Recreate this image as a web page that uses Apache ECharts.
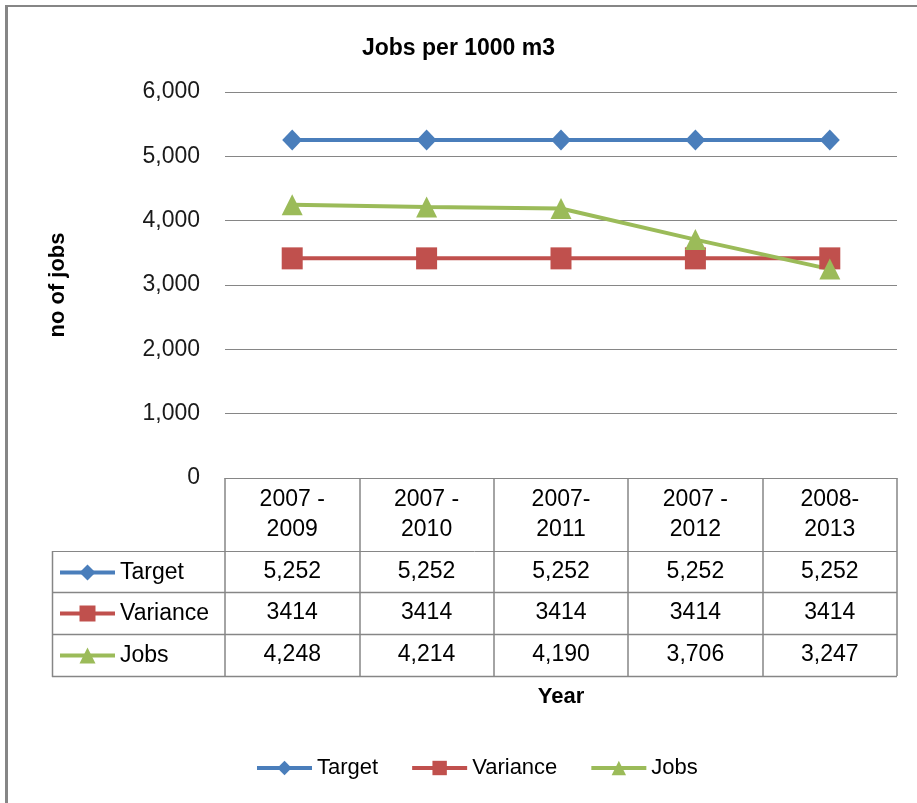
<!DOCTYPE html>
<html>
<head>
<meta charset="utf-8">
<script src="https://cdn.jsdelivr.net/npm/echarts@6/dist/echarts.min.js"></script>
<style>
html,body{margin:0;padding:0;background:#fff}
#chart{width:917px;height:803px}
</style>
</head>
<body>
<div id="chart"></div>
<script>
// 数据
var categories = ['2007 -\n2009', '2007 -\n2010', '2007-\n2011', '2007 -\n2012', '2008-\n2013'];
var target = [5252, 5252, 5252, 5252, 5252];
var variance = [3414, 3414, 3414, 3414, 3414];
var jobs = [4248, 4214, 4190, 3706, 3247];
var seriesNames = ['Target', 'Variance', 'Jobs'];
var colors = ['#4A7EBB', '#C0504D', '#9BBB59'];

var FONT = '"Liberation Sans", Arial, sans-serif';
var GRAY = '#868686';

// 布局
var gridLeft = 225, gridRight = 897, gridTop = 92, gridBottom = 478;
var tableLeft = 52;
var rowLines = [551, 592, 634, 676]; // 表格横线
var rowCenters = [572, 613, 655];

function fmt(v) { return v.toLocaleString('en-US'); }

var myChart = echarts.init(document.getElementById('chart'));

// 数据表每一行都用一个x轴来显示
function rowAxis(values, center, format) {
	return {
		type: 'category', gridIndex: 0, position: 'bottom',
		offset: center - 12 - gridBottom,
		data: categories,
		axisLine: {show: false}, axisTick: {show: false}, splitLine: {show: false},
		axisLabel: {
			interval: 0, margin: 0, fontSize: 23, lineHeight: 24, color: '#000', fontFamily: FONT,
			formatter: function (v, i) { return format(values[i]); }
		}
	};
}

// 行标题里的图例
function rowLegend(name, center) {
	return {
		data: [name], left: 58, top: center - 11, orient: 'horizontal',
		padding: 0, itemWidth: 55, itemHeight: 20, selectedMode: false,
		lineStyle: {width: 4},
		textStyle: {fontSize: 23, color: '#000', fontFamily: FONT, lineHeight: 22}
	};
}

var graphics = [];
for (var i = 0; i < rowLines.length; i++) {
	graphics.push({type: 'line', silent: true,
		shape: {x1: tableLeft, y1: rowLines[i] + 0.5, x2: gridRight, y2: rowLines[i] + 0.5},
		style: {stroke: GRAY, lineWidth: i == 0 ? 1 : 1.5}});
}
graphics.push({type: 'line', silent: true,
	shape: {x1: tableLeft + 0.5, y1: rowLines[0], x2: tableLeft + 0.5, y2: rowLines[3] + 1},
	style: {stroke: GRAY, lineWidth: 1.5}});
// 外框
graphics.push({type: 'line', silent: true, shape: {x1: 6.5, y1: 5, x2: 6.5, y2: 803}, style: {stroke: GRAY, lineWidth: 3}});
graphics.push({type: 'line', silent: true, shape: {x1: 5, y1: 6, x2: 917, y2: 6}, style: {stroke: GRAY, lineWidth: 2}});
graphics.push({type: 'text', silent: true, x: (gridLeft + gridRight) / 2, y: 697,
	style: {text: 'Year', fontSize: 22, fontWeight: 'bold', fontFamily: FONT, fill: '#000', align: 'center', verticalAlign: 'middle'}});

var symbols = ['diamond', 'rect', 'triangle'];
var symbolSizes = [[20, 21], [21, 22], [21, 21]];
var datas = [target, variance, jobs];
var series = [];
for (var s = 0; s < 3; s++) {
	series.push({
		type: 'line', name: seriesNames[s], data: datas[s],
		symbol: symbols[s], symbolSize: symbolSizes[s], showAllSymbol: true,
		lineStyle: {color: colors[s], width: 4},
		itemStyle: {color: colors[s]},
		emphasis: {disabled: true},
		animation: false
	});
}

var option = {
	backgroundColor: '#fff',
	animation: false,
	title: {
		text: 'Jobs per 1000 m3', left: 'center', top: 32,
		textStyle: {fontSize: 23, fontWeight: 'bold', color: '#000', fontFamily: FONT}
	},
	grid: {left: gridLeft, top: gridTop, right: 917 - gridRight, bottom: 803 - gridBottom, outerBoundsMode: 'none'},
	legend: [
		{
			data: seriesNames, left: 255, top: 757, padding: 0, itemGap: 32,
			itemWidth: 55, itemHeight: 18, selectedMode: false,
			lineStyle: {width: 4},
			textStyle: {fontSize: 22, color: '#000', fontFamily: FONT, lineHeight: 22}
		},
		rowLegend('Target', rowCenters[0]),
		rowLegend('Variance', rowCenters[1]),
		rowLegend('Jobs', rowCenters[2])
	],
	xAxis: [
		{
			type: 'category', data: categories, boundaryGap: true,
			axisLine: {show: true, lineStyle: {color: GRAY, width: 1}},
			axisTick: {show: true, length: rowLines[3] - gridBottom, lineStyle: {color: GRAY, width: 1.5}},
			axisLabel: {interval: 0, margin: 7, fontSize: 23, lineHeight: 30, color: '#000', fontFamily: FONT},
			splitLine: {show: false}
		},
		rowAxis(target, rowCenters[0], fmt),
		rowAxis(variance, rowCenters[1], function (v) { return String(v); }),
		rowAxis(jobs, rowCenters[2], fmt)
	],
	yAxis: {
		type: 'value', min: 0, max: 6000, interval: 1000,
		name: 'no of jobs', nameLocation: 'middle', nameRotate: 90, nameGap: 156,
		nameTextStyle: {fontSize: 22, fontWeight: 'bold', color: '#000', fontFamily: FONT},
		axisLine: {show: false}, axisTick: {show: false},
		axisLabel: {margin: 25, fontSize: 23, color: '#1a1a1a', fontFamily: FONT, formatter: fmt},
		splitLine: {lineStyle: {color: GRAY, width: 1}}
	},
	series: series,
	graphic: graphics
};

myChart.setOption(option);
</script>
</body>
</html>
